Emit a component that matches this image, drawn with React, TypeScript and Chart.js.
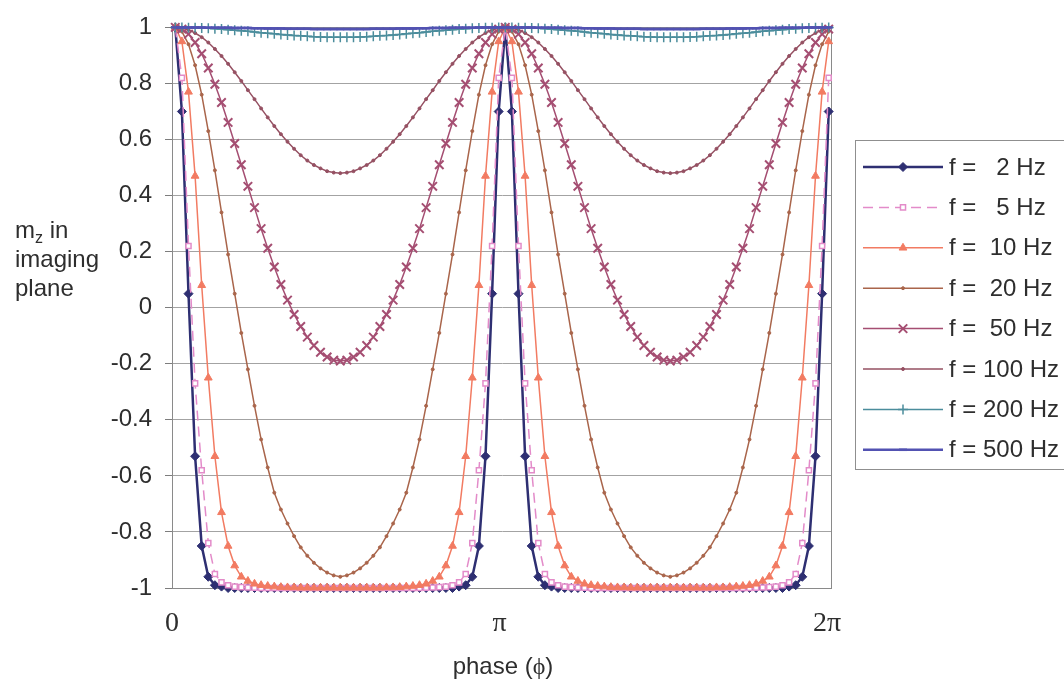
import React, { useEffect, useRef } from 'react';
import { Chart, registerables } from 'chart.js';
import { drawPoint } from 'chart.js/helpers';

Chart.register(...registerables);

// m_z in the imaging plane, sampled at 100 equally spaced phases over one full turn
const mz2Hz = [
  1, 0.7, 0.05, -0.53, -0.85, -0.96, -0.99, -0.995, -1, -1, -1, -1, -1, -1, -1, -1, -1, -1, -1, -1, -1, -1, -1, -1, -1, -1,
  -1, -1, -1, -1, -1, -1, -1, -1, -1, -1, -1, -1, -1, -1, -1, -1, -1, -0.995, -0.99, -0.96, -0.85, -0.53, 0.05, 0.7, 1,
  0.7, 0.05, -0.53, -0.85, -0.96, -0.99, -0.995, -1, -1, -1, -1, -1, -1, -1, -1, -1, -1, -1, -1, -1, -1, -1, -1, -1, -1,
  -1, -1, -1, -1, -1, -1, -1, -1, -1, -1, -1, -1, -1, -1, -1, -1, -1, -0.995, -0.99, -0.96, -0.85, -0.53, 0.05, 0.7,
];
const mz5Hz = [
  1, 0.82, 0.22, -0.27, -0.58, -0.84, -0.95, -0.98, -0.99, -0.995, -0.997, -0.998, -0.999, -1, -1, -1, -1, -1, -1, -1, -1, -1, -1, -1, -1, -1,
  -1, -1, -1, -1, -1, -1, -1, -1, -1, -1, -1, -1, -0.999, -0.998, -0.997, -0.995, -0.99, -0.98, -0.95, -0.84, -0.58, -0.27, 0.22, 0.82, 1,
  0.82, 0.22, -0.27, -0.58, -0.84, -0.95, -0.98, -0.99, -0.995, -0.997, -0.998, -0.999, -1, -1, -1, -1, -1, -1, -1, -1, -1, -1, -1, -1, -1,
  -1, -1, -1, -1, -1, -1, -1, -1, -1, -1, -1, -1, -0.999, -0.998, -0.997, -0.995, -0.99, -0.98, -0.95, -0.84, -0.58, -0.27, 0.22, 0.82,
];
const mz10Hz = [
  1, 0.95, 0.77, 0.47, 0.08, -0.25, -0.53, -0.73, -0.85, -0.92, -0.96, -0.975, -0.985, -0.99, -0.993, -0.995, -0.997, -0.998, -0.998, -0.999, -0.999, -0.999, -0.999, -0.999, -0.999, -0.999,
  -0.999, -0.999, -0.999, -0.999, -0.999, -0.999, -0.998, -0.998, -0.997, -0.995, -0.993, -0.99, -0.985, -0.975, -0.96, -0.92, -0.85, -0.73, -0.53, -0.25, 0.08, 0.47, 0.77, 0.95, 1,
  0.95, 0.77, 0.47, 0.08, -0.25, -0.53, -0.73, -0.85, -0.92, -0.96, -0.975, -0.985, -0.99, -0.993, -0.995, -0.997, -0.998, -0.998, -0.999, -0.999, -0.999, -0.999, -0.999, -0.999, -0.999,
  -0.999, -0.999, -0.999, -0.999, -0.999, -0.999, -0.998, -0.998, -0.997, -0.995, -0.993, -0.99, -0.985, -0.975, -0.96, -0.92, -0.85, -0.73, -0.53, -0.25, 0.08, 0.47, 0.77, 0.95,
];
const mz20Hz = [
  1, 0.985, 0.94, 0.865, 0.76, 0.63, 0.49, 0.34, 0.19, 0.05, -0.09, -0.22, -0.35, -0.47, -0.57, -0.66, -0.72, -0.77, -0.815, -0.855, -0.885, -0.91, -0.93, -0.945, -0.955, -0.96,
  -0.955, -0.945, -0.93, -0.91, -0.885, -0.855, -0.815, -0.77, -0.72, -0.66, -0.57, -0.47, -0.35, -0.22, -0.09, 0.05, 0.19, 0.34, 0.49, 0.63, 0.76, 0.865, 0.94, 0.985, 1,
  0.985, 0.94, 0.865, 0.76, 0.63, 0.49, 0.34, 0.19, 0.05, -0.09, -0.22, -0.35, -0.47, -0.57, -0.66, -0.72, -0.77, -0.815, -0.855, -0.885, -0.91, -0.93, -0.945, -0.955, -0.96,
  -0.955, -0.945, -0.93, -0.91, -0.885, -0.855, -0.815, -0.77, -0.72, -0.66, -0.57, -0.47, -0.35, -0.22, -0.09, 0.05, 0.19, 0.34, 0.49, 0.63, 0.76, 0.865, 0.94, 0.985,
];
const mz50Hz = [
  1, 0.994, 0.976, 0.946, 0.906, 0.855, 0.797, 0.732, 0.661, 0.586, 0.51, 0.433, 0.357, 0.282, 0.212, 0.145, 0.083, 0.027, -0.024, -0.067, -0.105, -0.135, -0.159, -0.176, -0.187, -0.19,
  -0.187, -0.176, -0.159, -0.135, -0.105, -0.067, -0.024, 0.027, 0.083, 0.145, 0.212, 0.282, 0.357, 0.433, 0.51, 0.586, 0.661, 0.732, 0.797, 0.855, 0.906, 0.946, 0.976, 0.994, 1,
  0.994, 0.976, 0.946, 0.906, 0.855, 0.797, 0.732, 0.661, 0.586, 0.51, 0.433, 0.357, 0.282, 0.212, 0.145, 0.083, 0.027, -0.024, -0.067, -0.105, -0.135, -0.159, -0.176, -0.187, -0.19,
  -0.187, -0.176, -0.159, -0.135, -0.105, -0.067, -0.024, 0.027, 0.083, 0.145, 0.212, 0.282, 0.357, 0.433, 0.51, 0.586, 0.661, 0.732, 0.797, 0.855, 0.906, 0.946, 0.976, 0.994,
];
const mz100Hz = [
  1, 0.998, 0.991, 0.98, 0.965, 0.946, 0.923, 0.898, 0.87, 0.84, 0.809, 0.776, 0.744, 0.711, 0.679, 0.648, 0.619, 0.592, 0.567, 0.544, 0.525, 0.509, 0.497, 0.487, 0.482, 0.48,
  0.482, 0.487, 0.497, 0.509, 0.525, 0.544, 0.567, 0.592, 0.619, 0.648, 0.679, 0.711, 0.744, 0.776, 0.809, 0.84, 0.87, 0.898, 0.923, 0.946, 0.965, 0.98, 0.991, 0.998, 1,
  0.998, 0.991, 0.98, 0.965, 0.946, 0.923, 0.898, 0.87, 0.84, 0.809, 0.776, 0.744, 0.711, 0.679, 0.648, 0.619, 0.592, 0.567, 0.544, 0.525, 0.509, 0.497, 0.487, 0.482, 0.48,
  0.482, 0.487, 0.497, 0.509, 0.525, 0.544, 0.567, 0.592, 0.619, 0.648, 0.679, 0.711, 0.744, 0.776, 0.809, 0.84, 0.87, 0.898, 0.923, 0.946, 0.965, 0.98, 0.991, 0.998,
];
const mz200Hz = [
  1, 1, 0.999, 0.999, 0.998, 0.997, 0.995, 0.994, 0.992, 0.99, 0.988, 0.986, 0.984, 0.981, 0.979, 0.977, 0.975, 0.973, 0.971, 0.97, 0.968, 0.967, 0.966, 0.965, 0.965, 0.965,
  0.965, 0.965, 0.966, 0.967, 0.968, 0.97, 0.971, 0.973, 0.975, 0.977, 0.979, 0.981, 0.984, 0.986, 0.988, 0.99, 0.992, 0.994, 0.995, 0.997, 0.998, 0.999, 0.999, 1, 1,
  1, 0.999, 0.999, 0.998, 0.997, 0.995, 0.994, 0.992, 0.99, 0.988, 0.986, 0.984, 0.981, 0.979, 0.977, 0.975, 0.973, 0.971, 0.97, 0.968, 0.967, 0.966, 0.965, 0.965, 0.965,
  0.965, 0.965, 0.966, 0.967, 0.968, 0.97, 0.971, 0.973, 0.975, 0.977, 0.979, 0.981, 0.984, 0.986, 0.988, 0.99, 0.992, 0.994, 0.995, 0.997, 0.998, 0.999, 0.999, 1,
];
const mz500Hz = [
  1, 1, 1, 1, 1, 0.999, 0.999, 0.999, 0.999, 0.998, 0.998, 0.998, 0.997, 0.997, 0.996, 0.996, 0.996, 0.995, 0.995, 0.995, 0.995, 0.994, 0.994, 0.994, 0.994, 0.994,
  0.994, 0.994, 0.994, 0.994, 0.995, 0.995, 0.995, 0.995, 0.996, 0.996, 0.996, 0.997, 0.997, 0.998, 0.998, 0.998, 0.999, 0.999, 0.999, 0.999, 1, 1, 1, 1, 1,
  1, 1, 1, 1, 0.999, 0.999, 0.999, 0.999, 0.998, 0.998, 0.998, 0.997, 0.997, 0.996, 0.996, 0.996, 0.995, 0.995, 0.995, 0.995, 0.994, 0.994, 0.994, 0.994, 0.994,
  0.994, 0.994, 0.994, 0.994, 0.995, 0.995, 0.995, 0.995, 0.996, 0.996, 0.996, 0.997, 0.997, 0.998, 0.998, 0.998, 0.999, 0.999, 0.999, 0.999, 1, 1, 1, 1,
];

const seriesLabels = ['f =   2 Hz', 'f =   5 Hz', 'f =  10 Hz', 'f =  20 Hz', 'f =  50 Hz', 'f = 100 Hz', 'f = 200 Hz', 'f = 500 Hz'];
const seriesValues = [mz2Hz, mz5Hz, mz10Hz, mz20Hz, mz50Hz, mz100Hz, mz200Hz, mz500Hz];

// phase sample slots (categories) and the labelled phase ticks
const phaseSamples = mz2Hz.map((_, k) => String(k));
const phaseTicks = [0, Math.PI, 2 * Math.PI];
const phaseTickLabels = ['0', 'π', '2π'];
const phaseAxisMax = 6.331;

const yTicksStep = 0.2;

const SANS = '"Liberation Sans", Arial, Helvetica, sans-serif';
const SERIF = '"Liberation Serif", "Times New Roman", serif';
const TEXT = '#2e2e2e';

type Look = {
  color: string;
  width: number;
  dash?: number[];
  point: string;
  radius: number;
  pointWidth: number;
  fill: string;
};

const looks: Look[] = [
  { color: '#2e2f72', width: 2.5, point: 'rectRot', radius: 4.5, pointWidth: 1, fill: '#2e2f72' },
  { color: '#e38bc9', width: 1.5, dash: [10, 6], point: 'rect', radius: 3.6, pointWidth: 1.5, fill: '#ffffff' },
  { color: '#f27b62', width: 1.5, point: 'triangle', radius: 4.5, pointWidth: 1, fill: '#f27b62' },
  { color: '#a9654b', width: 1.5, point: 'circle', radius: 1.5, pointWidth: 1, fill: '#a9654b' },
  { color: '#a54e72', width: 1.5, point: 'crossRot', radius: 6, pointWidth: 2, fill: '#a54e72' },
  { color: '#955062', width: 1.5, point: 'circle', radius: 1.5, pointWidth: 1, fill: '#955062' },
  { color: '#4b8d9c', width: 1.5, point: 'cross', radius: 5, pointWidth: 1.5, fill: '#4b8d9c' },
  { color: '#5252b2', width: 2.5, point: 'line', radius: 4, pointWidth: 2.5, fill: '#5252b2' },
];

const decorations = {
  id: 'decorations',
  beforeDatasetsDraw(chart: any) {
    const { ctx, chartArea: a } = chart;
    ctx.save();
    ctx.strokeStyle = '#8a8a8a';
    ctx.lineWidth = 1;
    ctx.strokeRect(a.left + 0.5, a.top + 0.5, a.right - a.left - 1, a.bottom - a.top);
    ctx.restore();
  },
  afterDraw(chart: any) {
    const { ctx } = chart;
    ctx.save();
    ctx.fillStyle = TEXT;
    ctx.textAlign = 'left';
    ctx.textBaseline = 'alphabetic';

    // y-axis title, written horizontally on three lines
    const big = `24px ${SANS}`;
    const small = `16px ${SANS}`;
    ctx.font = big;
    ctx.fillText('m', 15, 238);
    let x = 15 + ctx.measureText('m').width;
    ctx.font = small;
    ctx.fillText('z', x, 243);
    x += ctx.measureText('z').width;
    ctx.font = big;
    ctx.fillText(' in', x, 238);
    ctx.fillText('imaging', 15, 267);
    ctx.fillText('plane', 15, 296);

    // x-axis title
    const part1 = 'phase (';
    const part2 = 'ϕ';
    const part3 = ')';
    ctx.font = big;
    const w1 = ctx.measureText(part1).width;
    const w3 = ctx.measureText(part3).width;
    ctx.font = `24px ${SERIF}`;
    const w2 = ctx.measureText(part2).width;
    let tx = 503 - (w1 + w2 + w3) / 2;
    ctx.font = big;
    ctx.fillText(part1, tx, 674);
    tx += w1;
    ctx.font = `24px ${SERIF}`;
    ctx.fillText(part2, tx, 674);
    tx += w2;
    ctx.font = big;
    ctx.fillText(part3, tx, 674);

    // legend
    ctx.strokeStyle = '#8f8f8f';
    ctx.lineWidth = 1;
    ctx.strokeRect(855.5, 140.5, 240, 329);
    chart.data.datasets.forEach((ds: any, i: number) => {
      const y = 167 + i * 40.4;
      ctx.strokeStyle = ds.borderColor;
      ctx.lineWidth = ds.borderWidth;
      ctx.setLineDash(ds.borderDash || []);
      ctx.beginPath();
      ctx.moveTo(863, y);
      ctx.lineTo(943, y);
      ctx.stroke();
      ctx.setLineDash([]);
      ctx.fillStyle = ds.pointBackgroundColor;
      ctx.strokeStyle = ds.pointBorderColor;
      ctx.lineWidth = ds.pointBorderWidth;
      drawPoint(ctx, { pointStyle: ds.pointStyle, radius: ds.pointRadius, borderWidth: ds.pointBorderWidth, rotation: 0 } as any, 903, y);
      ctx.fillStyle = TEXT;
      ctx.font = big;
      ctx.textBaseline = 'middle';
      ctx.fillText(ds.label, 949, y + 1);
    });
    ctx.restore();
  },
};

export default function App() {
  const canvasRef = useRef<HTMLCanvasElement | null>(null);

  useEffect(() => {
    document.body.style.margin = '0';
    const canvas = canvasRef.current;
    if (!canvas) return;

    const datasets = seriesValues.map((values, i) => {
      const l = looks[i];
      return {
        label: seriesLabels[i],
        data: values,
        borderColor: l.color,
        borderWidth: l.width,
        borderDash: l.dash || [],
        pointStyle: l.point,
        pointRadius: l.radius,
        pointBorderWidth: l.pointWidth,
        pointBorderColor: l.color,
        pointBackgroundColor: l.fill,
        pointHoverRadius: l.radius,
        fill: false,
        tension: 0,
        clip: false as any,
        order: seriesValues.length - i,
      };
    });

    const chart = new Chart(canvas, {
      type: 'line',
      data: { labels: phaseSamples, datasets: datasets as any },
      options: {
        animation: false,
        responsive: false,
        devicePixelRatio: 1,
        layout: { padding: { left: 0, right: 232, top: 22, bottom: 0 } },
        plugins: { legend: { display: false }, tooltip: { enabled: false }, title: { display: false } },
        scales: {
          x: { type: 'category', display: false, offset: true },
          phase: {
            type: 'linear',
            axis: 'x',
            position: 'bottom',
            min: 0,
            max: phaseAxisMax,
            afterBuildTicks: (s: any) => {
              s.ticks = phaseTicks.map((v) => ({ value: v }));
            },
            afterFit: (s: any) => {
              s.height = 94;
            },
            ticks: {
              autoSkip: false,
              maxRotation: 0,
              padding: 19,
              color: TEXT,
              font: { family: SERIF, size: 28 },
              callback: (_v: any, i: number) => phaseTickLabels[i],
            },
            grid: { display: false, drawTicks: false },
            border: { display: false },
          } as any,
          y: {
            min: -1,
            max: 1,
            afterFit: (s: any) => {
              s.width = 172;
            },
            ticks: {
              stepSize: yTicksStep,
              padding: 13,
              color: TEXT,
              font: { family: SANS, size: 24 },
              callback: (v: any) => String(Number(Number(v).toFixed(1))),
            },
            grid: { color: '#a3a3a3', lineWidth: 1, drawTicks: true, tickLength: 7, tickColor: '#7d7d7d' },
            border: { display: true, color: '#7d7d7d' },
          },
        },
      },
      plugins: [decorations],
    });

    return () => chart.destroy();
  }, []);

  return (
    <div style={{ position: 'absolute', left: 0, top: 0, width: 1064, height: 682, background: '#ffffff' }}>
      <canvas ref={canvasRef} width={1064} height={682} style={{ display: 'block' }} />
    </div>
  );
}
